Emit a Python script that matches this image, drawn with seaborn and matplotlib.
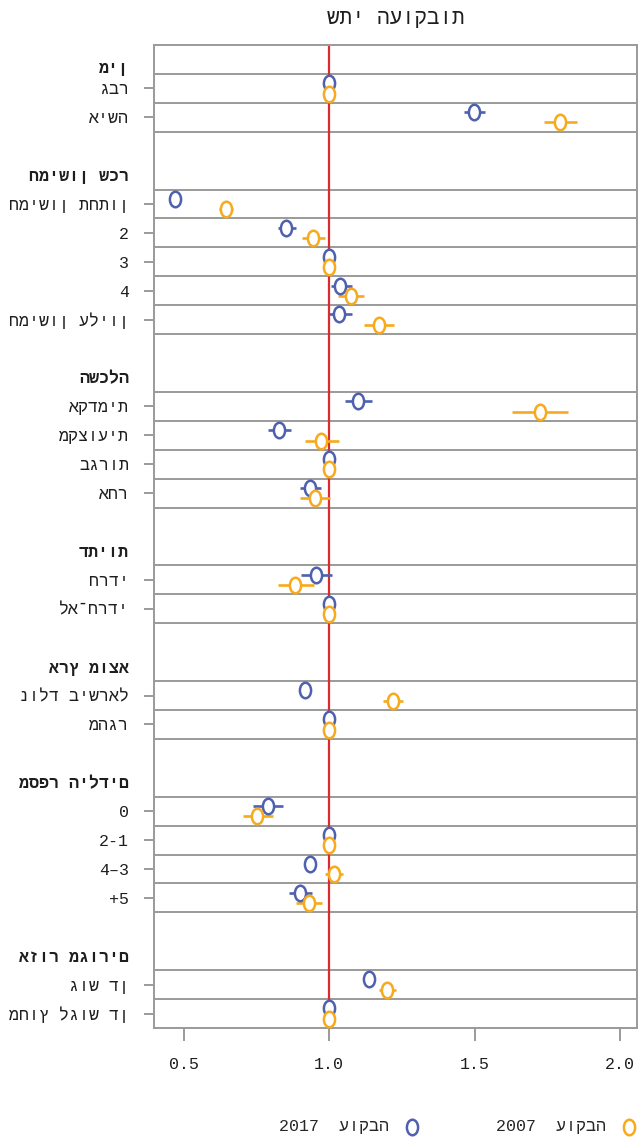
import numpy as np
import pandas as pd
import matplotlib
matplotlib.use("Agg")
import matplotlib.pyplot as plt
from matplotlib.path import Path
from matplotlib.transforms import Affine2D
from matplotlib.markers import MarkerStyle
import seaborn as sns

# ---- data -------------------------------------------------------------
title = "שתי העוקבות"
group_names = ["מין", "חמישון שכר", "השכלה", "דתיות", "ארץ מוצא", "מספר הילדים", "אזור מגורים"]
group_sizes = [2, 5, 4, 2, 2, 4, 2]
item_labels = [
    "גבר", "אישה",
    "חמישון תחתון", "2", "3", "4", "חמישון עליון",
    "אקדמית", "מקצועית", "בגרות", "אחר",
    "חרדי", "לא־חרדי",
    "נולד בישראל", "מהגר",
    "0", "2-1", "4–3", "+5",
    "גוש דן", "מחוץ לגוש דן",
]
est_2017 = [1.0, 1.498, 0.471, 0.851, 1.0, 1.038, 1.034, 1.100, 0.828, 1.0, 0.935,
            0.954, 1.0, 0.918, 1.0, 0.789, 1.0, 0.935, 0.901, 1.136, 1.0]
lo_2017 = [1.0, 1.462, 0.471, 0.824, 1.0, 1.007, 1.000, 1.054, 0.790, 1.0, 0.900,
           0.903, 1.0, 0.918, 1.0, 0.738, 1.0, 0.935, 0.863, 1.136, 1.0]
hi_2017 = [1.0, 1.537, 0.471, 0.886, 1.0, 1.079, 1.079, 1.147, 0.870, 1.0, 0.974,
           1.009, 1.0, 0.918, 1.0, 0.843, 1.0, 0.935, 0.940, 1.136, 1.0]
est_2007 = [1.0, 1.795, 0.647, 0.945, 1.0, 1.076, 1.171, 1.725, 0.973, 1.0, 0.952,
            0.883, 1.0, 1.220, 1.0, 0.754, 1.0, 1.016, 0.931, 1.199, 1.0]
lo_2007 = [1.0, 1.740, 0.623, 0.907, 1.0, 1.031, 1.119, 1.630, 0.918, 1.0, 0.900,
           0.824, 1.0, 1.187, 1.0, 0.704, 1.0, 0.986, 0.887, 1.171, 1.0]
hi_2007 = [1.0, 1.853, 0.671, 0.986, 1.0, 1.120, 1.222, 1.820, 1.034, 1.0, 1.003,
           0.950, 1.0, 1.255, 1.0, 0.809, 1.0, 1.047, 0.976, 1.231, 1.0]
series_names = ["2017  עוקבה", "2007  עוקבה"]
x_ticks = [0.5, 1.0, 1.5, 2.0]
x_tick_labels = ["0.5", "1.0", "1.5", "2.0"]

# ---- row layout: header, items, blank spacer ---------------------------
header_pos, item_pos = [], []
pos = 0
for size in group_sizes:
    header_pos.append(pos)
    item_pos.extend(range(pos + 1, pos + 1 + size))
    pos += size + 2
last_slot = item_pos[-1]

offset = 0.18
df = pd.DataFrame({
    "label": item_labels * 2,
    "series": [series_names[0]] * len(item_labels) + [series_names[1]] * len(item_labels),
    "est": est_2017 + est_2007,
    "lo": lo_2017 + lo_2007,
    "hi": hi_2017 + hi_2007,
    "y": [p - offset for p in item_pos] + [p + offset for p in item_pos],
})

# ---- style -------------------------------------------------------------
sns.set_style("white")
plt.rcParams["font.family"] = ["Liberation Mono", "Liberation Sans", "DejaVu Sans"]

blue = "#4E60AE"
orange = "#F6AA1C"
red = "#DD2A2E"
grid_grey = "#9A9A9A"
text_col = "#1E1E1E"
palette = {series_names[0]: blue, series_names[1]: orange}

fig = plt.figure(figsize=(6.38, 11.39), dpi=100)
ax = fig.add_axes([154 / 638, 1 - 1028 / 1139, (637 - 154) / 638, (1028 - 45) / 1139])

# separators around every item row
for gstart, size in zip(header_pos, group_sizes):
    for k in range(size + 1):
        ax.axhline(gstart + 0.5 + k, color=grid_grey, lw=1.4, zorder=1)

ax.axvline(1.0, color=red, lw=1.6, zorder=2)

# confidence intervals and point estimates
for name in series_names:
    sub = df[df["series"] == name]
    ax.hlines(sub["y"], sub["lo"], sub["hi"], color=palette[name], lw=1.9, zorder=3)

ellipse = MarkerStyle(Affine2D().scale(0.72, 1.0).transform_path(Path.unit_circle()))
handles = {}
for name in series_names:
    sub = df[df["series"] == name]
    sns.scatterplot(data=sub, x="est", y="y", ax=ax, marker=ellipse, s=125,
                    color=palette[name], facecolor="white", edgecolor=palette[name],
                    linewidth=1.8, zorder=4, label=name, legend=False)
    handles[name] = ax.collections[-1]

ax.set_xlim(0.3986, 2.058)
ax.set_ylim(last_slot + 0.5, -0.5)
ax.set_xlabel("")
ax.set_ylabel("")

ax.set_xticks(x_ticks)
ax.set_xticklabels(x_tick_labels, fontsize=12, color=text_col)
ax.tick_params(axis="x", length=9, width=1.4, color=grid_grey, pad=12, bottom=True)

# group headers sit in their own row; the first one hugs the top border less
header_ticks = [h + (0.25 if i == 0 else 0.0) for i, h in enumerate(header_pos)]
yt = header_ticks + list(item_pos)
yl = list(group_names) + list(item_labels)
ax.set_yticks(yt)
ax.set_yticklabels(yl, fontsize=12, color=text_col)
ax.tick_params(axis="y", length=7, width=1.4, color=grid_grey, pad=11, left=True)
n_head = len(header_pos)
for i, (tick, lab) in enumerate(zip(ax.yaxis.get_major_ticks(), ax.get_yticklabels())):
    if i < n_head:
        tick.tick1line.set_visible(False)
        lab.set_fontweight("bold")

for sp in ax.spines.values():
    sp.set_color(grid_grey)
    sp.set_linewidth(1.4)

ax.set_title(title, fontsize=15, color=text_col, pad=15)

fig.legend([handles[n] for n in series_names], series_names,
           loc="center", bbox_to_anchor=(458 / 638, 1 - 1127 / 1139), ncol=2,
           frameon=False, markerfirst=False, fontsize=12, columnspacing=4.5,
           handletextpad=0.9, handlelength=1.0)

fig.savefig("out.png", dpi=100)
